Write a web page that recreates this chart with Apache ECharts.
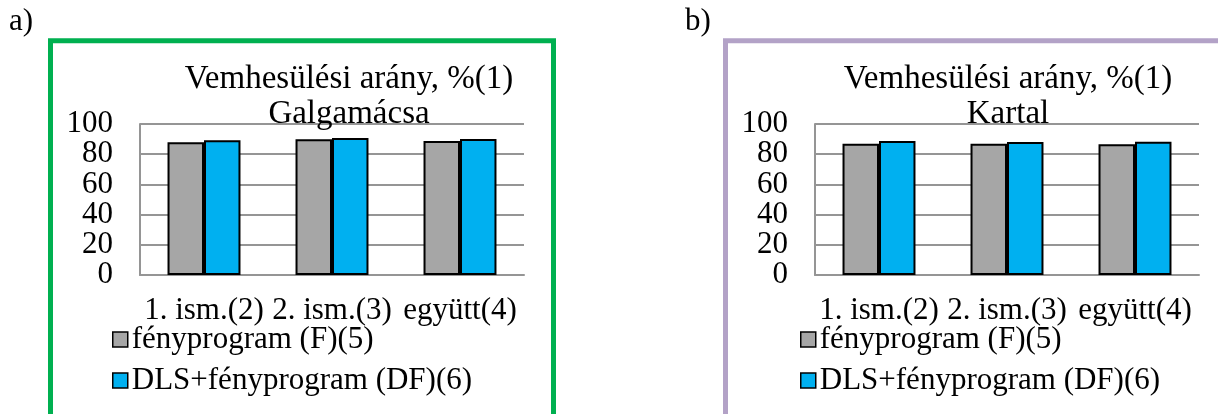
<!DOCTYPE html>
<html>
<head>
<meta charset="utf-8">
<script src="https://cdn.jsdelivr.net/npm/echarts@6/dist/echarts.min.js"></script>
<style>
html,body{margin:0;padding:0;background:#fff;}
#c{width:1218px;height:414px;}
</style>
</head>
<body>
<div id="c"></div>
<script>
const categories = ['1. ism.(2)', '2. ism.(3)', 'együtt(4)'];
const seriesNames = ['fényprogram (F)(5)', 'DLS+fényprogram (DF)(6)'];
const galgaF = [87.9, 89.9, 88.7];
const galgaDF = [89.2, 90.7, 90.1];
const kartalF = [87.0, 87.0, 86.6];
const kartalDF = [88.7, 88.1, 88.3];
const yTicks = [0, 20, 40, 60, 80, 100];
const titleMain = 'Vemhesülési arány, %(1)';
const titleA = 'Galgamácsa';
const titleB = 'Kartal';

const FONT = '"Liberation Serif", "Times New Roman", serif';
const FS = 31;
const GRID_COLOR = '#959595';
const STEP = yTicks[1] - yTicks[0];

// Two overlaid value axes per grid; each labels every other tick so that
// the library's overlap hiding does not drop any of the tick labels.
function yAxis(gi, parity, main) {
  return {
    type: 'value', gridIndex: gi, position: 'left',
    min: yTicks[0], max: yTicks[yTicks.length - 1], interval: STEP,
    axisLine: {show: main, lineStyle: {color: GRID_COLOR, width: 2}},
    axisTick: {show: false},
    splitLine: {show: main, lineStyle: {color: GRID_COLOR, width: 2}},
    axisLabel: {color: '#000', fontFamily: FONT, fontSize: FS, margin: 27,
      showMinLabel: true, showMaxLabel: true, hideOverlap: false,
      formatter: function (v) { return (Math.round(v / STEP) % 2 === parity) ? String(v) : ''; }}
  };
}
function xAxis(gi) {
  return {
    type: 'category', gridIndex: gi, data: categories,
    axisLine: {show: true, lineStyle: {color: GRID_COLOR, width: 2}},
    axisTick: {show: false},
    axisLabel: {color: '#000', fontFamily: FONT, fontSize: FS, margin: 20, interval: 0, lineHeight: 31}
  };
}
function bar(name, data, gi, color) {
  return {
    type: 'bar', name: name, data: data, xAxisIndex: gi, yAxisIndex: gi,
    barGap: '0%', barCategoryGap: '43%',
    itemStyle: {color: color, borderColor: '#000', borderWidth: 2},
    animation: false
  };
}
function legend(left) {
  return {
    orient: 'vertical', left: left, top: 324, padding: 0, itemWidth: 15, itemHeight: 15, itemGap: 10,
    icon: 'rect', data: seriesNames, selectedMode: false,
    itemStyle: {borderColor: '#000', borderWidth: 1.5},
    textStyle: {color: '#000', fontFamily: FONT, fontSize: FS, lineHeight: 31, padding: [0, 0, 0, -1]}
  };
}
function title(x, sub) {
  return {
    text: titleMain + '\n' + sub, left: x, top: 57, textAlign: 'center',
    textStyle: {color: '#000', fontFamily: FONT, fontSize: 33, fontWeight: 'normal', lineHeight: 35}
  };
}

const chart = echarts.init(document.getElementById('c'));
chart.setOption({
  animation: false,
  backgroundColor: '#fff',
  title: [title(344, titleA), title(1003, titleB)],
  legend: [legend(112), legend(800)],
  grid: [
    {left: 140, top: 124, width: 384, height: 151},
    {left: 815, top: 124, width: 384, height: 151}
  ],
  xAxis: [xAxis(0), xAxis(1)],
  yAxis: [yAxis(0, 0, true), yAxis(1, 0, true), yAxis(0, 1, false), yAxis(1, 1, false)],
  series: [
    bar(seriesNames[0], galgaF, 0, '#A6A6A6'),
    bar(seriesNames[1], galgaDF, 0, '#00B0F0'),
    bar(seriesNames[0], kartalF, 1, '#A6A6A6'),
    bar(seriesNames[1], kartalDF, 1, '#00B0F0')
  ],
  graphic: [
    {type: 'polyline', shape: {points: [[50.5, 430], [50.5, 40.8], [553.5, 40.8], [553.5, 430]]},
     style: {stroke: '#00B050', lineWidth: 5, fill: null}, z: 10},
    {type: 'polyline', shape: {points: [[725.5, 430], [725.5, 40.8], [1230, 40.8]]},
     style: {stroke: '#B3A2C7', lineWidth: 5, fill: null}, z: 10},
    {type: 'text', left: 9, top: 6, style: {text: 'a)', font: '31px ' + FONT, fill: '#000'}},
    {type: 'text', left: 685, top: 6, style: {text: 'b)', font: '31px ' + FONT, fill: '#000'}}
  ]
});
</script>
</body>
</html>
